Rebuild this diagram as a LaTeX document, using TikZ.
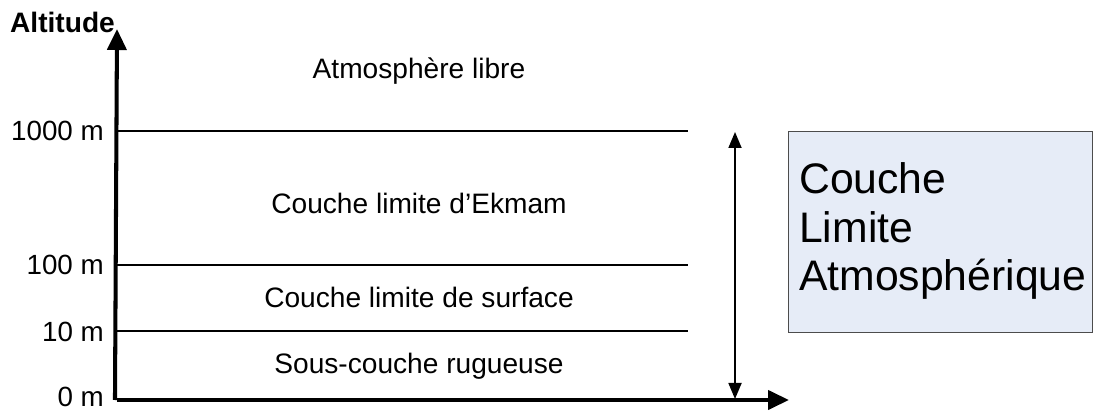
\documentclass[tikz,border=0pt]{standalone}
\usepackage{fontspec}
\setmainfont{Liberation Sans}
\usetikzlibrary{arrows.meta}
\definecolor{boxfill}{RGB}{230,236,247}

\begin{document}
\begin{tikzpicture}
\useasboundingbox (0,0) rectangle (21.86,8.2);
\tikzstyle{axe}=[line width=2.3pt,-{Triangle[length=0.42cm,width=0.38cm]}]
\tikzstyle{niveau}=[line width=0.8pt]
\tikzstyle{couche}=[font=\fontsize{16}{19}\selectfont]
\tikzstyle{graduation}=[anchor=east,font=\fontsize{15.8}{19}\selectfont]
\tikzstyle{epais}=[line width=1pt,{Triangle[length=0.32cm,width=0.26cm]}-{Triangle[length=0.32cm,width=0.26cm]}]
	\coordinate (O) at (2.34,0.2);
	\coordinate (Y) at (2.34,7.62);
	\coordinate (X) at (15.78,0.2);
	\coordinate (A) at (2.34,5.58);
	\coordinate (B) at (2.34,2.9);
	\coordinate (C) at (2.34,1.58);
	\coordinate (A') at (13.76,5.58);
	\coordinate (B') at (13.76,2.9);
	\coordinate (C') at (13.76,1.58);
	\coordinate (H) at (14.7,5.56);
	\coordinate (L) at (14.7,0.22);
\par
	\node[font=\fontsize{16}{19}\selectfont\bfseries] (T) at (1.25,7.76) {Altitude};
	\node[graduation] (N1) at (2.2,5.58) {1000 m};
	\node[graduation] (N2) at (2.2,2.9) {100 m};
	\node[graduation] (N3) at (2.2,1.56) {10 m};
	\node[graduation] (N4) at (2.2,0.26) {0 m};
\par
	\node[couche] (L1) at (8.38,6.78) {Atmosphère libre};
	\node[couche] (L2) at (8.38,4.14) {Couche limite d’Ekmam};
	\node[couche] (L3) at (8.38,2.25) {Couche limite de surface};
	\node[couche] (L4) at (8.38,0.88) {Sous-couche rugueuse};
\par
	\draw[niveau] (A)--(A');
	\draw[niveau] (B)--(B');
	\draw[niveau] (C)--(C');
	\draw[axe] ([xshift=-1.15pt]O)--(Y);
	\draw[axe] (O)--(X);
	\draw[epais] (L)--(H);
\par
	\node[draw=black!70,fill=boxfill,line width=0.6pt,minimum width=6.08cm,minimum height=4.02cm,anchor=north west] (CLA) at (15.76,5.58) {};
	\node[anchor=west,align=left,font=\fontsize{24.3}{27.5}\selectfont] (CLAt) at (15.86,3.58) {Couche\\Limite\\Atmosphérique};
\end{tikzpicture}
\end{document}
